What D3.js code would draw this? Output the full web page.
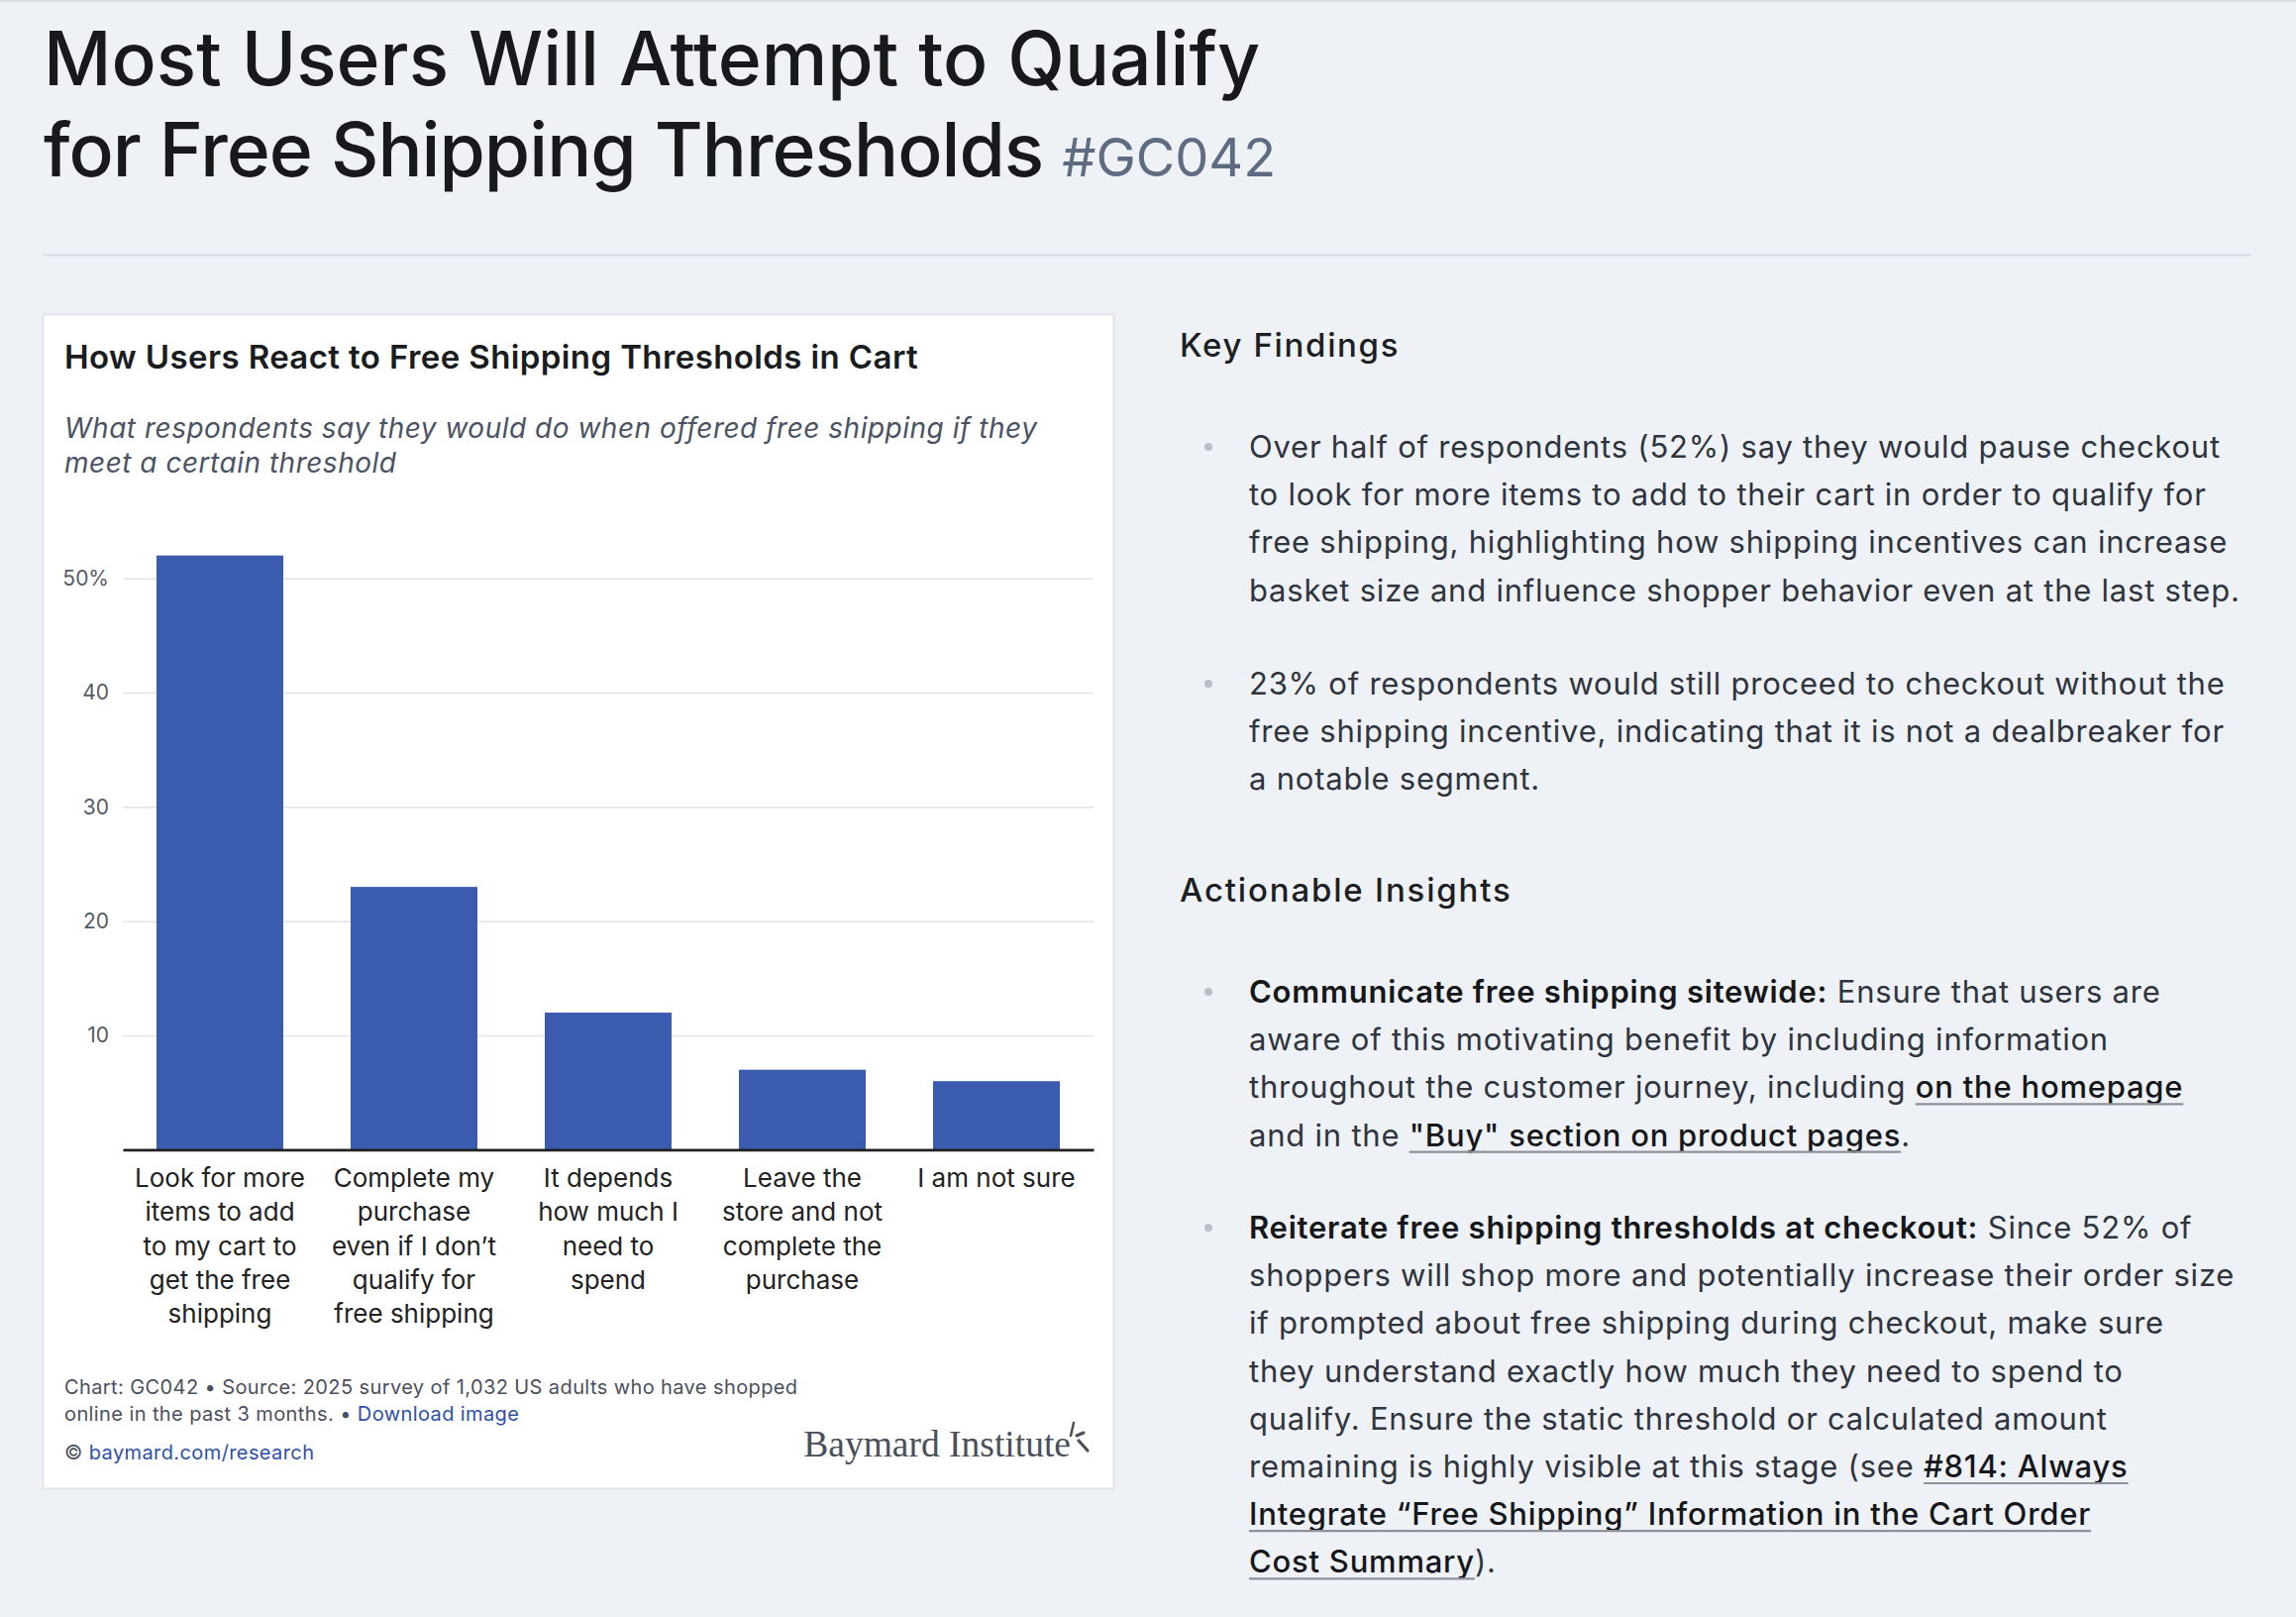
<!DOCTYPE html>
<html>
<head>
<meta charset="utf-8">
<script src="https://cdn.jsdelivr.net/npm/d3@7"></script>
<style>
  html, body { margin: 0; padding: 0; background: #eef2f6; }
  svg { display: block; font-family: Inter, "Noto Sans", sans-serif; }
</style>
</head>
<body>
<div id="page"></div>
<script>
// chart data (tick labels keep the line breaks seen in the chart)
const categories = [
  "Look for more\nitems to add\nto my cart to\nget the free\nshipping",
  "Complete my\npurchase\neven if I don’t\nqualify for\nfree shipping",
  "It depends\nhow much I\nneed to\nspend",
  "Leave the\nstore and not\ncomplete the\npurchase",
  "I am not sure"
];
const values = [52, 23, 12, 7, 6];
const yTicks = [10, 20, 30, 40, 50];

// page texts
const titleLines = ["Most Users Will Attempt to Qualify", "for Free Shipping Thresholds"];
const titleTag = "#GC042";
const chartTitle = "How Users React to Free Shipping Thresholds in Cart";
const chartSubtitle = ["What respondents say they would do when offered free shipping if they", "meet a certain threshold"];

// bullet lines: each segment [text, kind] with kind "n" normal, "b" bold, "u" link
const keyFindings = [
  [[["Over half of respondents (52%) say they would pause checkout", "n"]],
   [["to look for more items to add to their cart in order to qualify for", "n"]],
   [["free shipping, highlighting how shipping incentives can increase", "n"]],
   [["basket size and influence shopper behavior even at the last step.", "n"]]],
  [[["23% of respondents would still proceed to checkout without the", "n"]],
   [["free shipping incentive, indicating that it is not a dealbreaker for", "n"]],
   [["a notable segment.", "n"]]]
];
const insights = [
  [[["Communicate free shipping sitewide:", "b"], [" Ensure that users are", "n"]],
   [["aware of this motivating benefit by including information", "n"]],
   [["throughout the customer journey, including ", "n"], ["on the homepage", "u"]],
   [["and in the ", "n"], ["\"Buy\" section on product pages", "u"], [".", "n"]]],
  [[["Reiterate free shipping thresholds at checkout:", "b"], [" Since 52% of", "n"]],
   [["shoppers will shop more and potentially increase their order size", "n"]],
   [["if prompted about free shipping during checkout, make sure", "n"]],
   [["they understand exactly how much they need to spend to", "n"]],
   [["qualify. Ensure the static threshold or calculated amount", "n"]],
   [["remaining is highly visible at this stage (see ", "n"], ["#814: Always", "u"]],
   [["Integrate “Free Shipping” Information in the Cart Order", "u"]],
   [["Cost Summary", "u"], [").", "n"]]]
];

const W = 2318, H = 1632;
const svg = d3.select("#page").append("svg")
  .attr("width", W).attr("height", H);

svg.append("rect").attr("width", W).attr("height", H).attr("fill", "#eef2f6");
svg.append("rect").attr("width", W).attr("height", 2).attr("fill", "#d9dde4");

// page title
const title = svg.append("text")
  .attr("font-size", 75).attr("font-weight", 500)
  .attr("fill", "#17191c");
title.append("tspan").attr("x", 44).attr("y", 86).text(titleLines[0]);
title.append("tspan").attr("x", 44).attr("y", 178)
  .attr("letter-spacing", "-0.013em").text(titleLines[1] + " ");
title.append("tspan").attr("font-size", 54).attr("font-weight", 400)
  .attr("fill", "#5f6b80").text(titleTag);

svg.append("rect").attr("x", 43).attr("y", 256).attr("width", 2230).attr("height", 3)
  .attr("fill", "#dde2eb");

// card
svg.append("rect")
  .attr("x", 43.5).attr("y", 317.5).attr("width", 1081).attr("height", 1185)
  .attr("fill", "#ffffff").attr("stroke", "#dfe3ea").attr("stroke-width", 2);

svg.append("text")
  .attr("x", 65).attr("y", 372)
  .attr("font-size", 33).attr("font-weight", 600)
  .attr("letter-spacing", "0.012em")
  .attr("fill", "#1a1c20")
  .text(chartTitle);

const sub = svg.append("text")
  .attr("font-size", 28).attr("font-style", "italic")
  .attr("letter-spacing", "0.018em")
  .attr("fill", "#4b5262");
chartSubtitle.forEach((t, i) => {
  sub.append("tspan").attr("x", 65).attr("y", 442 + i * 35).text(t);
});

// plot
const x0 = 124, x1 = 1104, yBase = 1160.4, yTop = 583.7;
const x = d3.scaleBand()
  .domain(categories)
  .range([x0, x1])
  .paddingInner(0.347)
  .paddingOuter(0.1735);
const y = d3.scaleLinear()
  .domain([0, 50])
  .range([yBase, yTop]);

const yAxis = svg.append("g")
  .attr("transform", "translate(" + x0 + ",0)")
  .call(d3.axisLeft(y)
    .tickValues(yTicks)
    .tickSize(-(x1 - x0))
    .tickPadding(14)
    .tickFormat(d => d === 50 ? d + "%" : d));
yAxis.select(".domain").remove();
yAxis.selectAll(".tick line").attr("stroke", "#e3e4e6").attr("stroke-width", 1.6);
yAxis.selectAll(".tick text")
  .attr("font-family", "Inter, sans-serif")
  .attr("font-size", 21).attr("fill", "#555b66");

svg.append("g")
  .selectAll("rect")
  .data(values)
  .enter()
  .append("rect")
  .attr("x", (d, i) => x(categories[i]))
  .attr("width", x.bandwidth())
  .attr("y", d => y(d))
  .attr("height", d => yBase - y(d))
  .attr("fill", "#3a5bae");

const xAxis = svg.append("g")
  .attr("transform", "translate(0," + yBase + ")")
  .call(d3.axisBottom(x).tickSize(0).tickSizeOuter(0));
xAxis.select(".domain").attr("stroke", "#222").attr("stroke-width", 2.6);
xAxis.selectAll(".tick text")
  .attr("font-family", "Inter, sans-serif")
  .attr("font-size", 26).attr("fill", "#222")
  .each(function (d) {
    const t = d3.select(this).text(null).attr("y", 0).attr("dy", null);
    d.split("\n").forEach((l, i) => {
      t.append("tspan").attr("x", 0).attr("y", 37.6 + i * 34.3).text(l);
    });
  });

// footer
const foot = svg.append("g").attr("font-size", 20).attr("letter-spacing", "0.02em").attr("fill", "#4a505c");
foot.append("text").attr("x", 65).attr("y", 1407)
  .text("Chart: GC042 • Source: 2025 survey of 1,032 US adults who have shopped");
const f2 = foot.append("text").attr("x", 65).attr("y", 1434);
f2.append("tspan").text("online in the past 3 months. • ");
f2.append("tspan").attr("fill", "#2e4faa").text("Download image");
const f3 = foot.append("text").attr("x", 65).attr("y", 1473);
f3.append("tspan").text("© ");
f3.append("tspan").attr("fill", "#2e4faa").text("baymard.com/research");

svg.append("text")
  .attr("x", 1081).attr("y", 1470)
  .attr("text-anchor", "end")
  .attr("font-family", "'Liberation Serif', 'DejaVu Serif', serif")
  .attr("font-size", 37.5).attr("fill", "#4a4f5a")
  .text("Baymard Institute");
const logo = svg.append("g").attr("stroke", "#4a4f5a").attr("stroke-linecap", "round");
logo.append("line").attr("x1", 1084).attr("y1", 1436).attr("x2", 1081).attr("y2", 1449).attr("stroke-width", 2.5);
logo.append("line").attr("x1", 1087).attr("y1", 1449).attr("x2", 1094).attr("y2", 1446).attr("stroke-width", 3);
logo.append("line").attr("x1", 1089).attr("y1", 1454).attr("x2", 1098).attr("y2", 1464).attr("stroke-width", 3.2);

// right panel
svg.append("text").attr("x", 1191).attr("y", 360)
  .attr("font-size", 33).attr("font-weight", 500).attr("letter-spacing", "0.05em")
  .attr("fill", "#1d1f23")
  .text("Key Findings");
svg.append("text").attr("x", 1191).attr("y", 910)
  .attr("font-size", 33).attr("font-weight", 500).attr("letter-spacing", "0.055em")
  .attr("fill", "#1d1f23")
  .text("Actionable Insights");

const LH = 48.2;
function bullets(items, starts) {
  items.forEach((lines, k) => {
    const b0 = starts[k];
    svg.append("circle").attr("cx", 1220).attr("cy", b0 - 11).attr("r", 4).attr("fill", "#babec6");
    lines.forEach((segs, i) => {
      const yy = b0 + i * LH;
      const t = svg.append("text").attr("x", 1261).attr("y", yy)
        .attr("font-size", 31).attr("letter-spacing", "0.025em");
      segs.forEach(([txt, kind]) => {
        const s = t.append("tspan").text(txt)
          .attr("fill", kind === "n" ? "#2f343d" : "#15171a")
          .attr("font-weight", kind === "b" ? 600 : (kind === "u" ? 500 : 400));
        if (kind === "u") s.classed("link", true);
      });
      t.selectAll("tspan.link").each(function () {
        const n = this, len = n.getNumberOfChars();
        const a = n.getStartPositionOfChar(0).x;
        const b = n.getEndPositionOfChar(len - 1).x;
        svg.append("line").attr("x1", a).attr("x2", b)
          .attr("y1", yy + 6).attr("y2", yy + 6)
          .attr("stroke", "#8d9199").attr("stroke-width", 2.2);
      });
    });
  });
}
bullets(keyFindings, [462, 701]);
bullets(insights, [1012, 1250]);
</script>
</body>
</html>
